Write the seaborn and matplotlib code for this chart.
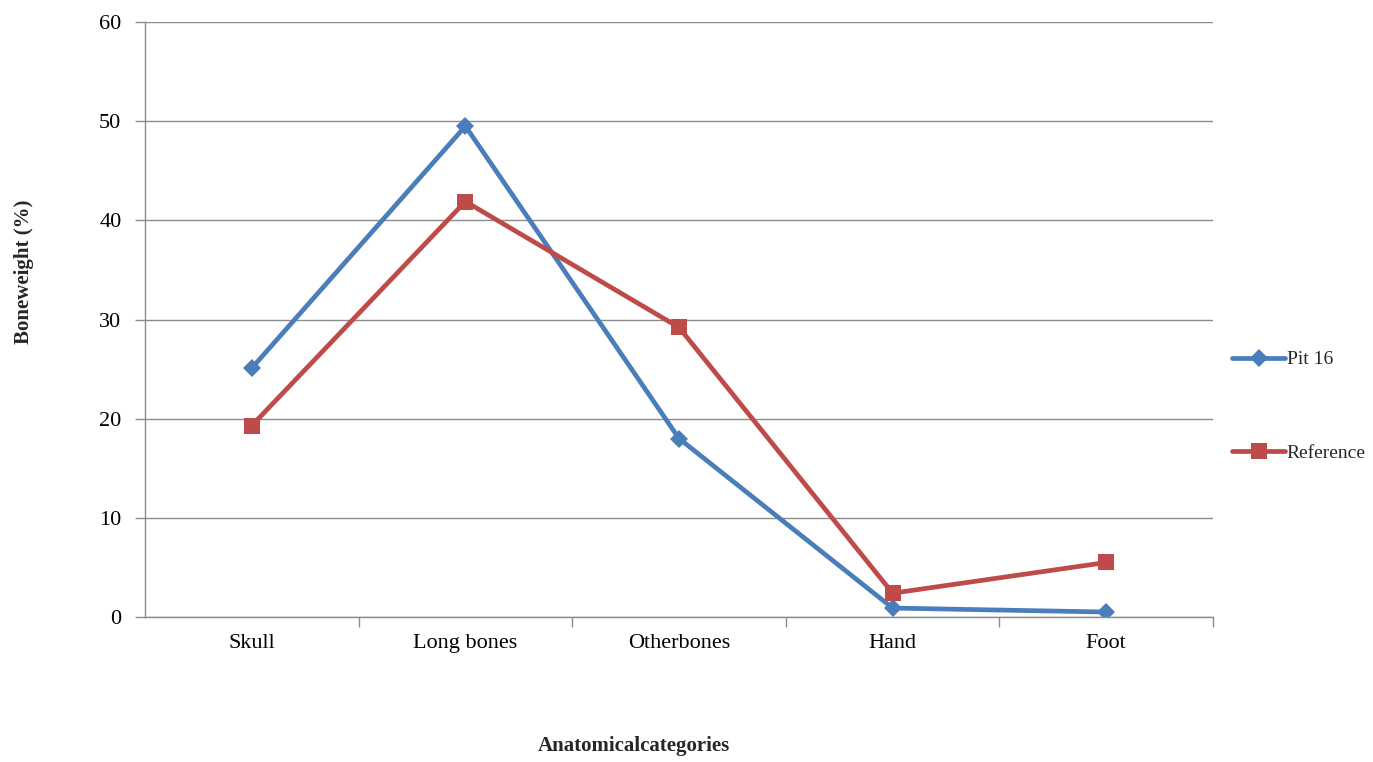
import pandas as pd
import matplotlib.pyplot as plt
import seaborn as sns

# values
categories = ["Skull", "Long bones", "Otherbones", "Hand", "Foot"]
pit16 = [25.1, 49.5, 18.0, 0.9, 0.5]
reference = [19.3, 41.9, 29.2, 2.4, 5.5]
y_ticks = [0, 10, 20, 30, 40, 50, 60]

sns.set_theme(style="white")
plt.rcParams['font.family'] = ['Liberation Serif', 'DejaVu Serif']

df_pit = pd.DataFrame({"category": categories, "value": pit16})
df_ref = pd.DataFrame({"category": categories, "value": reference})

fig = plt.figure(figsize=(13.73, 7.62), dpi=100)
ax = fig.add_axes([0.1056, 0.1903, 0.7779, 0.7808])

sns.lineplot(data=df_pit, x="category", y="value", ax=ax, color="#4A7EBB",
             linewidth=3.4, marker="D", markersize=9, markeredgewidth=0,
             label="Pit 16", sort=False)
sns.lineplot(data=df_ref, x="category", y="value", ax=ax, color="#BE4B48",
             linewidth=3.4, marker="s", markersize=12, markeredgewidth=0,
             label="Reference", sort=False)

ax.set_xlim(-0.5, len(categories) - 0.5)
ax.set_ylim(0, 60)
ax.set_yticks(y_ticks)
ax.yaxis.grid(True, color="#8c8c8c", linewidth=1)
ax.xaxis.grid(False)

# tick marks between categories, labels at category centres
ax.set_xticks([i + 0.5 for i in range(len(categories))], minor=True)
ax.tick_params(axis="x", which="major", length=0, pad=12, labelsize=16, colors="black")
ax.tick_params(axis="x", which="minor", length=7, width=1, color="#8c8c8c", direction="out", bottom=True)
ax.tick_params(axis="y", length=7, width=1, color="#8c8c8c", direction="out", left=True,
               labelsize=16, labelcolor="black", pad=10)

for side in ["top", "right"]:
    ax.spines[side].set_visible(False)
for side in ["left", "bottom"]:
    ax.spines[side].set_color("#8c8c8c")
    ax.spines[side].set_linewidth(1)

ax.set_xlabel("Anatomicalcategories", fontsize=15, fontweight="bold")
ax.xaxis.set_label_coords(0.458, -0.2)
ax.set_ylabel("Boneweight (%)", fontsize=15, fontweight="bold")
ax.yaxis.set_label_coords(-0.104, 0.58)

ax.legend(loc="center left", bbox_to_anchor=(1.018, 0.354), frameon=False,
          fontsize=14, labelspacing=3.9, handlelength=2.7, handletextpad=0.1,
          borderpad=0, borderaxespad=0)

plt.savefig("out.png", dpi=100, facecolor="white")
